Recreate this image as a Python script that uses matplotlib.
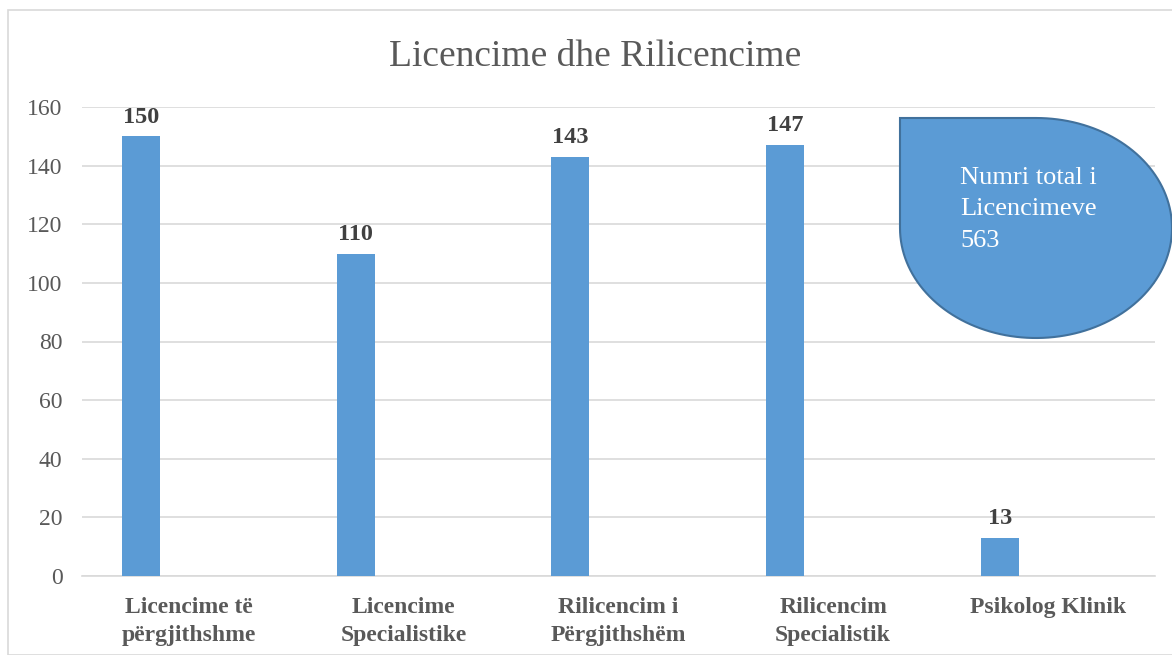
import numpy as np
import matplotlib
matplotlib.use('Agg')
from matplotlib import pyplot as plt
from matplotlib.patches import Polygon, Rectangle

categories = ['Licencime të\npërgjithshme', 'Licencime\nSpecialistike',
              'Rilicencim i\nPërgjithshëm', 'Rilicencim\nSpecialistik',
              'Psikolog Klinik']
values = [150, 110, 143, 147, 13]
title = 'Licencime dhe Rilicencime'
note = 'Numri total i\nLicencimeve\n563'

plt.rcParams['font.family'] = ['Liberation Serif', 'DejaVu Serif']

W, H = 1172, 655
fig = plt.figure(figsize=(W / 100, H / 100), dpi=100)

# outer chart border
fig.patches.append(Rectangle((8 / W, 0), 1.2, 1 - 10 / H, transform=fig.transFigure,
                             fill=False, edgecolor='#d9d9d9', linewidth=1.2))

ax = fig.add_axes([82 / W, 1 - 576 / H, (1155 - 82) / W, (576 - 107) / H])

x = np.arange(len(categories))
ax.bar(x - 0.224, values, width=0.177, color='#5b9bd5', zorder=3)
for xi, v in zip(x, values):
    ax.text(xi - 0.224, v + 3, str(v), ha='center', va='bottom',
            fontsize=17.5, fontweight='bold', color='#404040')

ax.set_xlim(-0.5, len(categories) - 0.5)
ax.set_ylim(0, 160)
ax.set_yticks(np.arange(0, 161, 20))
ax.yaxis.grid(True, color='#d9d9d9', linewidth=1.2, zorder=0)
ax.set_xticks(x)
ax.set_xticklabels(categories, fontsize=17, fontweight='bold', color='#595959',
                   linespacing=1.45)
for lab in ax.get_yticklabels():
    lab.set_fontsize(17)
    lab.set_color('#595959')
ax.tick_params(axis='both', length=0)
ax.tick_params(axis='y', pad=14)
ax.tick_params(axis='x', pad=15)
for s in ['top', 'right', 'left']:
    ax.spines[s].set_visible(False)
ax.spines['bottom'].set_color('#d9d9d9')
ax.spines['bottom'].set_linewidth(1.2)

fig.text(595 / W, 1 - 57 / H, title, ha='center', va='center',
         fontsize=27, color='#595959')

# teardrop shape (sharp top-left corner)
cx, cy, rx, ry = 1036, 228, 136, 110
t = np.linspace(np.pi / 2, -np.pi, 120)
pts = [(900, 118)] + [(cx + rx * np.cos(a), cy - ry * np.sin(a)) for a in t]
pts = [(px / W, 1 - py / H) for px, py in pts]
fig.patches.append(Polygon(pts, closed=True, transform=fig.transFigure,
                           facecolor='#5b9bd5', edgecolor='#41719c', linewidth=1.5))
fig.text(960 / W, 1 - 167 / H, note, ha='left', va='top', fontsize=19,
         color='white', linespacing=1.55)

fig.savefig('out.png', dpi=100)
